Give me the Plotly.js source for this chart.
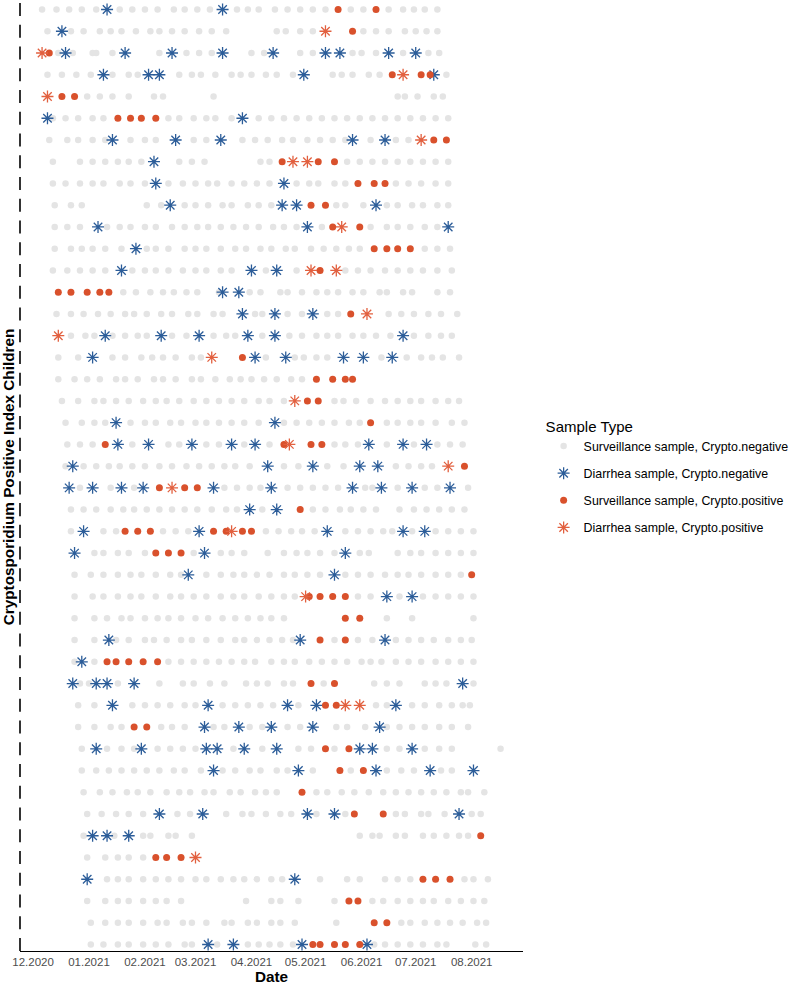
<!DOCTYPE html>
<html>
<head>
<meta charset="utf-8">
<script src="https://cdn.plot.ly/plotly-3.0.1.min.js"></script>
<style>html,body{margin:0;padding:0;background:#fff;}#chart{width:797px;height:986px;}</style>
</head>
<body>
<div id="chart"></div>
<script>
// Day offsets counted from the start date below (0 = 2020-12-01)
const startDate = '2020-12-01';

// Surveillance sample, Crypto.negative  (one array per child, top to bottom)
const survNeg = [
 [5,13,20,27,35,48,55,62,69,78,84,91,98,113,119,125,134,141,148,155,162,176,183,197,205,211,217,224],
 [8,21,28,37,43,49,57,65,70,77,84,92,99,107,135,140,148,155,183,190,197,206,212,218,224],
 [14,22,33,35,44,70,85,92,99,121,128,148,155,177,182,190,205,219,225],
 [8,16,24,32,44,53,58,81,88,93,101,110,115,121,129,135,144,166,171,177,186,192,229],
 [30,37,44,53,67,72,100,202,206,213,222,227],
 [11,18,25,33,39,75,81,89,96,101,110,125,132,139,146,153,160,167,174,181,188,195,202,209,216,223,230],
 [9,19,25,33,40,54,62,68,89,96,116,123,130,138,144,152,159,166,173,187,201,208],
 [11,26,33,40,47,53,60,81,88,95,126,131,174,181,188,195,202,209,216,223,230],
 [11,18,26,33,39,48,54,62,75,83,90,97,102,110,117,124,131,146,153,158,167,173,201,208,215,223,230],
 [12,21,27,63,71,84,90,97,105,110,119,125,132,168,173,183,196,202,210,216,224,230],
 [12,19,26,41,48,54,62,68,77,84,91,97,104,111,118,125,133,139,146,160,187,196,202,209,217,224],
 [12,21,27,33,40,49,63,68,75,84,90,96,104,112,118,126,132,140,145,154,161,168,175,181,217,224,231],
 [11,19,26,33,40,55,62,68,75,83,90,96,104,110,129,146,173,180,187,195,202,209,216,224,232],
 [50,57,65,72,78,85,91,103,120,126,137,141,149,157,163,169,177,183,192,196,205,210,224,231],
 [13,21,28,36,43,51,56,63,71,77,86,91,100,105,123,127,141,149,163,169,197,204,211,219,226,235],
 [21,29,34,44,51,58,63,77,85,100,107,112,127,142,149,157,163,169,177,183,190,198,211,219,226,232],
 [14,25,44,51,60,66,72,79,88,93,129,145,150,157,163,193,207,215,221,227,236],
 [14,23,30,37,46,51,58,67,72,79,88,93,101,109,115,121,128,135,143,149],
 [16,25,34,39,46,53,61,68,74,81,89,96,103,110,117,125,131,139,167,172,179,187,195,202,209,215,223,230,236],
 [18,27,34,40,54,62,68,76,82,90,96,103,110,117,125,139,146,153,160,167,175,181,196,202,209,215,223,232,239],
 [19,26,33,55,75,81,96,103,117,131,167,173,180,196,211,224,231,238],
 [18,28,35,42,48,55,62,70,77,85,92,99,106,112,120,139,147,163,172,201,208,215,221],
 [26,43,56,106,113,120,126,141,148,155,162,169,184,188,202,217,224,241],
 [21,28,35,43,50,56,63,70,77,84,91,99,107,113,127,155,162,170,176,183,190,203,211,218,225,232,239],
 [21,39,46,72,79,86,129,136,143,149,156,173,180,187,194,199,210,223,230,237,244],
 [34,39,47,53,62,89,104,110,117,130,139,146,152,159,167,181,186,202,209,215,223,230,237,244],
 [23,32,39,47,54,60,68,76,82,96,104,111,117,124,131,139,145,152,159,173,180,187,195,202,208,215,223,230,237],
 [23,33,39,47,54,60,68,76,82,89,96,104,111,117,125,132,139,145,180,187,203,216,223,230,237,244],
 [23,34,41,49,54,62,69,75,82,90,97,105,112,119,126,132,139,196,210,244],
 [23,34,46,53,62,67,74,82,88,96,104,112,117,124,131,138,144,167,180,188,201,208,215,222,230,237,243],
 [23,34,75,82,89,96,103,110,117,123,132,139,145,153,160,167,174,182,187,193,201,208,215,223,230,237,244],
 [26,31,47,70,83,89,98,106,118,124,130,139,144,161,189,196,203,217,223,229,244],
 [25,34,55,62,69,76,84,90,105,112,119,126,133,147,190,196,210,217,225,232,238,242],
 [25,34,43,49,71,77,84,100,106,120,127,141,148,168,174,184,196,203,210,217,225,232,241],
 [27,41,49,56,69,76,83,90,111,127,147,154,167,196,203,217,225,232,259],
 [27,35,42,49,56,63,70,78,84,93,105,112,120,126,135,141,155,176,196,204,211,226,232],
 [28,37,44,52,58,65,74,81,87,95,100,109,115,123,129,135,157,163,171,178,186,194,201,208,215,222,229,237,241,250],
 [30,38,46,53,61,80,87,107,116,121,129,137,143,157,173,201,206,215,219,228,243,248],
 [28,45,61,65,75,79,88,181,188,192,201,206,216,222,229,236,241],
 [30,40,47,53,61],
 [41,47,53,61,68,75,82,90,96,104,111,117,124,132,138,159,174,181,195,202,209,239,244,252],
 [30,40,47,53,61,68,74,82,118,132,137,147,167,188,194,202,209,216,222,230,237,244,250],
 [32,40,47,53,61,69,74,83,88,96,106,110,119,124,132,137,145,168,204,209,217,224,231,238,246,251],
 [32,39,47,53,61,68,75,84,88,102,119,125,131,137,144,189,195,202,209,216,224,229,245,251]
];

// Diarrhea sample, Crypto.negative
const diarNeg = [
 [41,105],[16],[18,51,77,105,133,162,170,197,212],[39,64,70,150,222],[],[8,116],
 [44,79,104,177,195],[67],[68,139],[76,138,146,190],[36,152,230],[57],[49,121,135],
 [105,114],[116,134,155],[40,71,92,119,134,205],[33,123,140,172,183,199],[],[],[46,134],
 [47,64,88,110,123,186,205,218],[22,130,155,181,191],[20,33,49,61,100,132,177,193,210,231],
 [120,135],[28,92,163,205,217],[23,95,173],[86,167],[196,210],[],[42,148,195],[27],
 [22,35,41,56,238],[44,97,141,157,201],[95,114,132,155,192],[35,60,96,102,117,135,181,188,210],
 [100,147,190,220,244],[],[70,94,152,167,236],[33,41,53],[],[30,145],[],[],[97,111,149,185]
];

// Surveillance sample, Crypto.positive
const survPos = [
 [169,190],[177],[9],[199,215,220],[16,23],[47,54,60,68],[222,229],[138,158,167],[180,189,195],
 [154,162],[166,181],[189,196,202,209],[159],[14,21,30,37,42],[176],[],[116],[157,166,173,177],
 [152,158],[187],[40,139,154,160],[239],[70,84,91],[148],[51,58,65,100,107,116,121],[68,75,82],
 [243],[153,159,166,173],[173,181],[159,173],[41,46,53,61,69],[154,167],[162,168],[56,63],
 [162,175],[170,183],[149],[178,194],[248],[68,74,82],[216,223,231],[175,180],[189,196],
 [155,159,167,173,181]
];

// Diarrhea sample, Crypto.positive
const diarPos = [
 [],[162],[5],[205],[8],[],[215],[144,152],[],[],[171],[],[154,168],[],[185],[14],[99],[],
 [145],[],[142],[230],[77],[],[110],[],[],[151],[],[],[],[],[173,181],[],[],[],[],[],[],[90],
 [],[],[],[]
];

const seriesNames = [
 'Surveillance sample, Crypto.negative',
 'Diarrhea sample, Crypto.negative',
 'Surveillance sample, Crypto.positive',
 'Diarrhea sample, Crypto.positive'
];
const xTitle = 'Date';
const yTitle = 'Cryptosporidium Positive Index Children';
const legendTitle = 'Sample Type';

const startMs = Date.parse(startDate + 'T00:00:00Z');
function toDate(d){ return new Date(startMs + d*86400000).toISOString().slice(0,10); }
function flatten(rows){
  const xs=[], ys=[];
  rows.forEach((r,i)=>r.forEach(d=>{ xs.push(toDate(d)); ys.push(i); }));
  return {x:xs, y:ys};
}
const nRows = survNeg.length;

const styles = [
  {symbol:'circle', size:6.5, color:'#E4E4E4', line:{width:0}},
  {symbol:'asterisk-open', size:10, color:'#2C5D99', line:{color:'#2C5D99', width:1.3}},
  {symbol:'circle', size:7, color:'#D9512C', line:{width:0}},
  {symbol:'asterisk-open', size:10, color:'#E2603F', line:{color:'#E2603F', width:1.3}}
];
const traces = [survNeg, diarNeg, survPos, diarPos].map((rows,k)=>{
  const f = flatten(rows);
  return {type:'scatter', mode:'markers', x:f.x, y:f.y, name:seriesNames[k],
          legendgroup:'g'+k, marker:styles[k], hoverinfo:'x+y+name'};
});

const shapes = [];
for(let i=0;i<nRows;i++){
  shapes.push({type:'line', xref:'paper', yref:'y', x0:0, x1:0, y0:i-0.3, y1:i+0.3,
               line:{color:'#000', width:1.6}});
}

const font = 'Liberation Sans, Arial, Helvetica, sans-serif';
const layout = {
  width:797, height:986,
  margin:{l:20, r:264, t:3, b:35},
  paper_bgcolor:'#fff', plot_bgcolor:'#fff',
  font:{family:font, color:'#000'},
  showlegend:true,
  xaxis:{
    type:'date', range:['2020-11-23 18:40','2021-08-29 10:20'],
    tick0:'2020-12-01', dtick:'M1', tickformat:'%m.%Y',
    showgrid:false, zeroline:false, showline:true, linecolor:'#000', linewidth:1.3,
    ticks:'', tickfont:{size:11.5, color:'#4D4D4D'},
    title:{text:'<b>'+xTitle+'</b>', font:{size:15.3, color:'#000'}, standoff:4}
  },
  yaxis:{
    range:[nRows-1+0.3, -0.3], showgrid:false, zeroline:false, showline:false,
    showticklabels:false, ticks:'',
    title:{text:'<b>'+yTitle+'</b>', font:{size:15.3, color:'#000'}, standoff:3}
  },
  legend:{
    x:1.041, xanchor:'left', y:0.5, yanchor:'middle',
    traceorder:'grouped', tracegroupgap:8,
    font:{size:12.4, color:'#000'},
    title:{text:legendTitle, font:{size:15, color:'#000'}}
  },
  shapes:shapes
};
Plotly.newPlot('chart', traces, layout, {displayModeBar:false, staticPlot:true});
</script>
</body>
</html>
